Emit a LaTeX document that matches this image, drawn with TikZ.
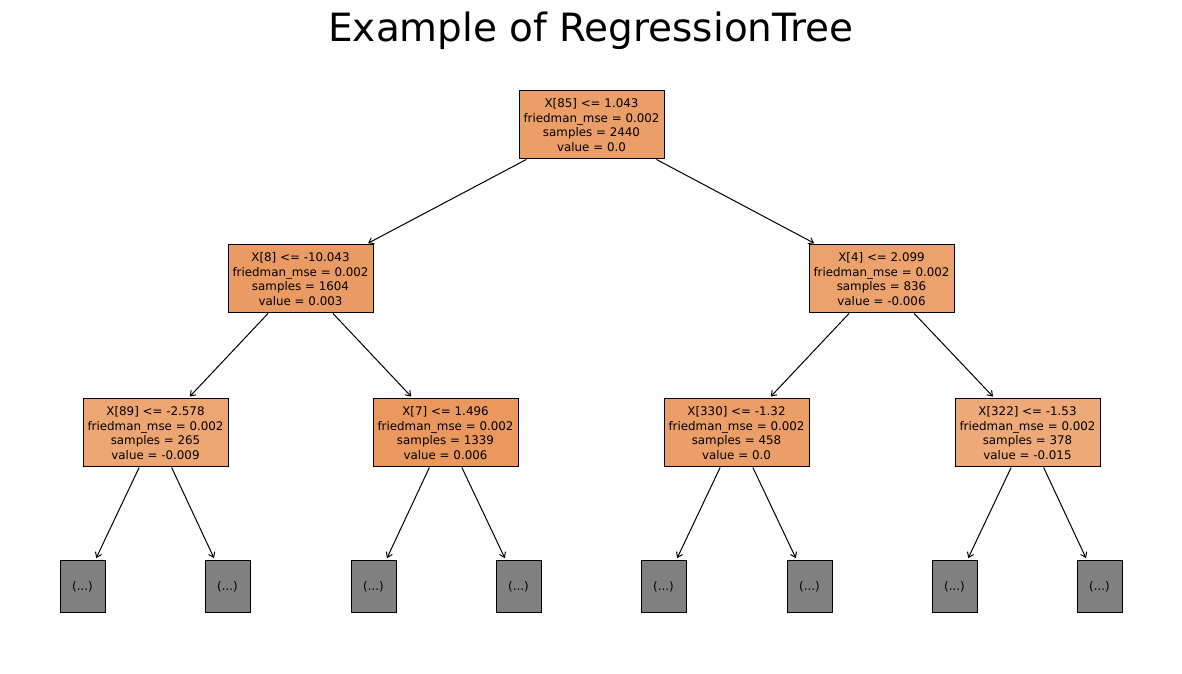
\documentclass[tikz,border=0pt]{standalone}
\usepackage{fontspec}
\setmainfont{DejaVu Sans}
\usepackage{xcolor}
\usetikzlibrary{arrows.meta,positioning,calc}
\definecolor{treeorange}{HTML}{E58139}

\tikzset{
  split/.style={draw, line width=0.75pt, align=center, inner sep=0pt,
    minimum width=108.75pt, minimum height=51pt,
    font=\fontsize{8.9}{10.9}\selectfont},
  cut/.style={draw, line width=0.75pt, fill=gray, inner sep=0pt,
    minimum width=33.75pt, minimum height=39pt,
    font=\fontsize{8.9}{10.9}\selectfont},
  edge/.style={line width=0.75pt, -{Straight Barb[length=3.5pt,width=5pt]}, shorten >=2pt}
}

\begin{document}
\begin{tikzpicture}[x=0.75pt,y=0.75pt]
\useasboundingbox (0,0) rectangle (1182,674);

\node[anchor=base, font=\fontsize{29.2}{34}\selectfont] (title) at (591,632) {Example of RegressionTree};

\node[split, fill=treeorange!77!white] (root) at (591.5,549) {X[85] <= 1.043\\friedman\_mse = 0.002\\samples = 2440\\value = 0.0};

\node[split, fill=treeorange!79!white] (l) at (300.5,395) {X[8] <= -10.043\\friedman\_mse = 0.002\\samples = 1604\\value = 0.003};
\node[split, fill=treeorange!74!white] (r) at (881.5,395) {X[4] <= 2.099\\friedman\_mse = 0.002\\samples = 836\\value = -0.006};

\node[split, fill=treeorange!71!white] (ll) at (155.5,241) {X[89] <= -2.578\\friedman\_mse = 0.002\\samples = 265\\value = -0.009};
\node[split, fill=treeorange!82!white] (lr) at (445.5,241) {X[7] <= 1.496\\friedman\_mse = 0.002\\samples = 1339\\value = 0.006};
\node[split, fill=treeorange!77!white] (rl) at (736.5,241) {X[330] <= -1.32\\friedman\_mse = 0.002\\samples = 458\\value = 0.0};
\node[split, fill=treeorange!68!white] (rr) at (1027.5,241) {X[322] <= -1.53\\friedman\_mse = 0.002\\samples = 378\\value = -0.015};

% truncated subtrees
\node[cut] (lla) at (82.5,87) {(...)};
\node[cut] (llb) at (227.5,87) {(...)};
\node[cut] (lra) at (373.5,87) {(...)};
\node[cut] (lrb) at (518.5,87) {(...)};
\node[cut] (rla) at (663.5,87) {(...)};
\node[cut] (rlb) at (809.5,87) {(...)};
\node[cut] (rra) at (954.5,87) {(...)};
\node[cut] (rrb) at (1099.5,87) {(...)};

\draw[edge] (root) -- (l);
\draw[edge] (root) -- (r);
\draw[edge] (l) -- (ll);
\draw[edge] (l) -- (lr);
\draw[edge] (r) -- (rl);
\draw[edge] (r) -- (rr);

\foreach \p in {ll,lr,rl,rr}
{
  \draw[edge] (\p) -- (\p a);
  \draw[edge] (\p) -- (\p b);
}

\end{tikzpicture}
\end{document}
